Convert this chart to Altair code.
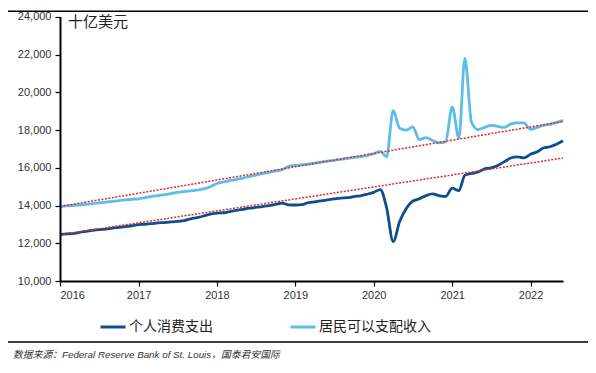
import altair as alt
import pandas as pd

# ---------------- data ----------------
months = pd.date_range("2016-01-01", "2022-06-01", freq="MS")

pce = [
    # 2016
    12460, 12500, 12510, 12580, 12630, 12680, 12720, 12750, 12800, 12840, 12880, 12930,
    # 2017
    12990, 13010, 13040, 13080, 13100, 13130, 13160, 13200, 13300, 13360, 13450, 13550,
    # 2018
    13600, 13620, 13680, 13740, 13800, 13860, 13900, 13950, 14000, 14060, 14130, 14040,
    # 2019
    14030, 14050, 14150, 14200, 14250, 14300, 14350, 14400, 14420, 14480, 14520, 14600,
    # 2020
    14700, 14850, 13900, 12090, 13150, 13850, 14230, 14360, 14530, 14620, 14530, 14480,
    # 2021
    14920, 14790, 15610, 15700, 15780, 15950, 16000, 16120, 16330, 16520, 16580, 16530,
    # 2022
    16720, 16850, 17050, 17120, 17250, 17440,
]

dpi = [
    # 2016
    13950, 13980, 14000, 14030, 14060, 14100, 14140, 14180, 14220, 14260, 14300, 14330,
    # 2017
    14360, 14420, 14480, 14530, 14580, 14640, 14700, 14740, 14780, 14820, 14880, 15000,
    # 2018
    15170, 15250, 15320, 15390, 15460, 15540, 15620, 15690, 15760, 15830, 15900, 16080,
    # 2019
    16130, 16170, 16200, 16250, 16300, 16360, 16400, 16450, 16500, 16550, 16600, 16650,
    # 2020
    16750, 16870, 16580, 19030, 18100, 18000, 18170, 17500, 17600, 17450, 17330, 17380,
    # 2021
    19230, 17580, 21800, 18420, 18030, 18150, 18250, 18200, 18150, 18330, 18380, 18380,
    # 2022
    18040, 18150, 18250, 18300, 18400, 18510,
]

series_names = ["个人消费支出", "居民可以支配收入"]
series_colors = ["#0e4d8f", "#5cbde9"]

trend_dates = ["2016-01-01", "2022-06-01"]
pce_trend = [12450, 16520]
dpi_trend = [13950, 18460]

y_ticks = list(range(10000, 24001, 2000))
y_top = 24477          # headroom above the last tick for the frame line
years = list(range(2016, 2023))

title_text = "十亿美元"
source_text = "数据来源：Federal Reserve Bank of St. Louis，国泰君安国际"

# ---------------- tables ----------------
df = pd.concat([
    pd.DataFrame({"date": months, "value": pce, "series": series_names[0]}),
    pd.DataFrame({"date": months, "value": dpi, "series": series_names[1]}),
])
trend_df = pd.concat([
    pd.DataFrame({"date": pd.to_datetime(trend_dates), "value": pce_trend, "t": "pce"}),
    pd.DataFrame({"date": pd.to_datetime(trend_dates), "value": dpi_trend, "t": "dpi"}),
])

W, H = 503, 273
FONT = "Liberation Sans"
CJK = "Noto Sans CJK SC"

x_scale = alt.Scale(domain=[alt.DateTime(year=2016, month=1, date=1),
                            alt.DateTime(year=2022, month=6, date=1)])
y_scale = alt.Scale(domain=[y_ticks[0], y_top], nice=False, zero=False)

x_axis = alt.Axis(
    values=[alt.DateTime(year=y, month=1, date=1) for y in years],
    format="%Y", title=None, grid=False,
    domainColor="#000", domainWidth=2, tickColor="#000", tickWidth=1.2, tickSize=5,
    labelFont=FONT, labelFontSize=11, labelColor="#333", labelPadding=3,
)
y_axis = alt.Axis(
    values=y_ticks, format=",.0f", title=None, grid=False, domain=False,
    tickColor="#000", tickWidth=1.2, tickSize=5,
    labelFont=FONT, labelFontSize=11, labelColor="#333", labelPadding=4,
)

lines = alt.Chart(df).mark_line(strokeWidth=2.8, interpolate="monotone").encode(
    x=alt.X("date:T", scale=x_scale, axis=x_axis),
    y=alt.Y("value:Q", scale=y_scale, axis=y_axis),
    color=alt.Color(
        "series:N",
        scale=alt.Scale(domain=series_names, range=series_colors),
        legend=alt.Legend(
            title=None, orient="none", legendX=39, legendY=305,
            direction="horizontal", symbolType="stroke", symbolSize=625,
            symbolStrokeWidth=3, labelFont=CJK, labelFontSize=14,
            labelColor="#222", columnPadding=71, labelOffset=2,
        ),
    ),
    detail="series:N",
)

trends = alt.Chart(trend_df).mark_line(
    color="#e02828", strokeWidth=1.5, strokeDash=[2, 1.5]
).encode(
    x=alt.X("date:T", scale=x_scale, axis=x_axis),
    y=alt.Y("value:Q", scale=y_scale, axis=y_axis),
    detail="t:N",
)

# y axis line from the first to the last tick
y_line = alt.Chart(pd.DataFrame({"a": [2]})).mark_rule(
    color="#000", strokeWidth=2
).encode(
    x=alt.value(0.5),
    y=alt.datum(y_ticks[0], scale=y_scale, axis=y_axis),
    y2=alt.datum(y_ticks[-1]),
)

title = alt.Chart(pd.DataFrame({"t": [title_text]})).mark_text(
    align="left", baseline="middle", font=CJK, fontSize=15, color="#222"
).encode(x=alt.value(8), y=alt.value(14), text="t:N")

top_rule = alt.Chart(pd.DataFrame({"a": [0]})).mark_rect(
    color="#000"
).encode(x=alt.value(-52), x2=alt.value(528), y=alt.value(2.5), y2=alt.value(4))

sep_rule = alt.Chart(pd.DataFrame({"a": [1]})).mark_rule(
    color="#000", strokeWidth=1.5
).encode(x=alt.value(-57), x2=alt.value(528), y=alt.value(334))

source = alt.Chart(pd.DataFrame({"t": [source_text]})).mark_text(
    align="left", baseline="middle", font=FONT + ", " + CJK, fontSize=9.8,
    fontStyle="italic", color="#333"
).encode(x=alt.value(-47), y=alt.value(347), text="t:N")

chart = alt.layer(lines, trends, y_line, title, top_rule, sep_rule, source).properties(
    width=W, height=H,
    autosize=alt.AutoSizeParams(type="none"),
    padding={"left": 52, "top": 0, "right": 25, "bottom": 79},
).configure_view(stroke=None)

chart.save("out.html", embed_options={"renderer": "svg", "actions": False})
